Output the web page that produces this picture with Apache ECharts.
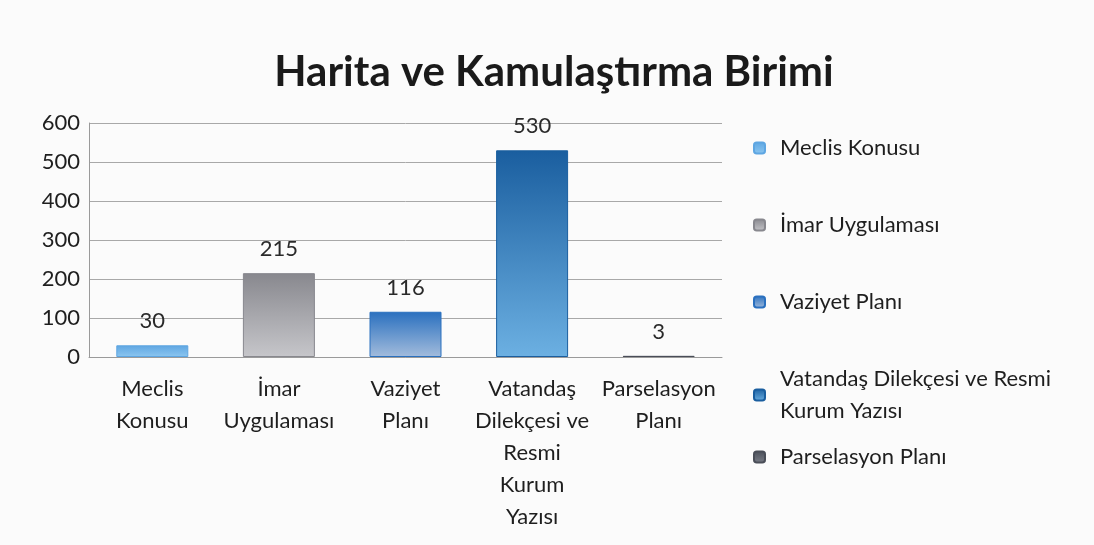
<!DOCTYPE html>
<html>
<head>
<meta charset="utf-8">
<title>Harita ve Kamulaştırma Birimi</title>
<script src="https://cdn.jsdelivr.net/npm/echarts@6/dist/echarts.min.js"></script>
<style>
  html, body { margin: 0; padding: 0; background: #fbfbfb; }
  #content { width: 1094px; height: 545px; }
</style>
</head>
<body>
<div id="content"></div>
<script>
var categories = ['Meclis Konusu', 'İmar Uygulaması', 'Vaziyet Planı', 'Vatandaş Dilekçesi ve Resmi Kurum Yazısı', 'Parselasyon Planı'];
var categoryLabels = ['Meclis\nKonusu', 'İmar\nUygulaması', 'Vaziyet\nPlanı', 'Vatandaş\nDilekçesi ve\nResmi\nKurum\nYazısı', 'Parselasyon\nPlanı'];
var values = [30, 215, 116, 530, 3];
var yTicks = [0, 100, 200, 300, 400, 500, 600];

// top / bottom colours of each bar gradient
var barColors = [
    ['#5ea6e2', '#8cc6f0'],
    ['#88888e', '#c6c6ca'],
    ['#2a70bf', '#a3bcdc'],
    ['#1a5e9f', '#6cb0e2'],
    ['#4a4e58', '#7a7e88']
];

var myChart = echarts.init(document.getElementById('content'));
var font = 'Lato, "Open Sans", sans-serif';

var series = categories.map(function (name, i) {
    var data = categories.map(function (c, j) { return j === i ? values[i] : null; });
    return {
        name: name,
        type: 'bar',
        stack: 'all',
        barWidth: 72,
        data: data,
        itemStyle: {
            color: {
                type: 'linear', x: 0, y: 0, x2: 0, y2: 1,
                colorStops: [{offset: 0, color: barColors[i][0]}, {offset: 1, color: barColors[i][1]}]
            },
            borderColor: barColors[i][0],
            borderWidth: 1
        },
        label: {
            show: true,
            position: 'top',
            distance: 13,
            color: '#2a2a2a',
            fontSize: 22,
            fontFamily: font
        }
    };
});

var legendText = {color: '#1e1e1e', fontSize: 22, fontFamily: font, lineHeight: 32, padding: [0, 0, 0, 10]};

var option = {
    backgroundColor: '#fbfbfb',
    title: {
        text: 'Harita ve Kamulaştırma Birimi',
        left: 549,
        top: 46,
        textAlign: 'center',
        textStyle: {fontSize: 42, fontWeight: 'bold', color: '#1a1a1a', fontFamily: font}
    },
    legend: [
        {
            orient: 'vertical',
            left: 748,
            top: 127,
            itemWidth: 11,
            itemHeight: 11,
            itemGap: 45,
            data: categories.slice(0, 4),
            formatter: function (n) {
                return n === categories[3] ? 'Vatandaş Dilekçesi ve Resmi\nKurum Yazısı' : n;
            },
            textStyle: legendText
        },
        {
            orient: 'vertical',
            left: 748,
            top: 436,
            itemWidth: 11,
            itemHeight: 11,
            data: categories.slice(4),
            textStyle: legendText
        }
    ],
    grid: {left: 89, right: 372, top: 123, bottom: 188},
    xAxis: {
        type: 'category',
        data: categories,
        axisTick: {show: false},
        axisLine: {lineStyle: {color: '#9a9a9a'}},
        axisLabel: {
            interval: 0,
            margin: 16,
            color: '#1e1e1e',
            fontSize: 22,
            lineHeight: 32,
            fontFamily: font,
            formatter: function (v, i) { return categoryLabels[i]; }
        }
    },
    yAxis: {
        type: 'value',
        min: yTicks[0],
        max: yTicks[yTicks.length - 1],
        interval: 100,
        axisLine: {show: true, lineStyle: {color: '#9a9a9a'}},
        axisTick: {show: false},
        splitLine: {lineStyle: {color: '#a8a8a8'}},
        axisLabel: {color: '#1e1e1e', fontSize: 22, margin: 9, fontFamily: font}
    },
    series: series
};

myChart.setOption(option);
</script>
</body>
</html>
